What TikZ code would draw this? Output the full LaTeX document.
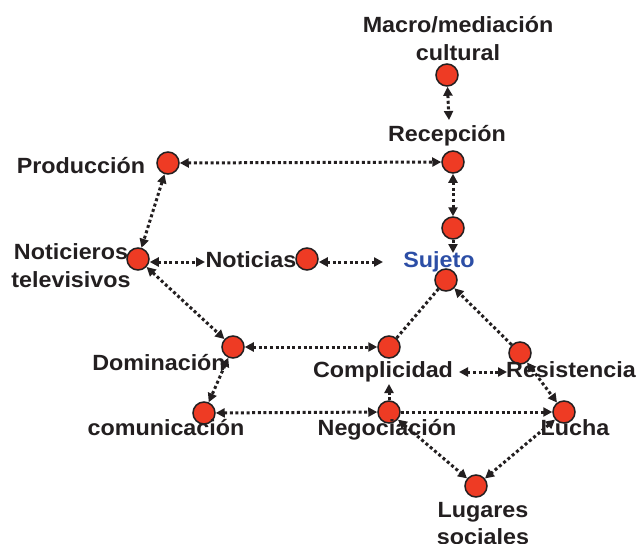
\documentclass[tikz,border=0pt]{standalone}
\usepackage{fontspec}
\setmainfont[FakeStretch=1.06]{Liberation Sans}
\usetikzlibrary{arrows.meta}
\definecolor{dotred}{HTML}{EE3B24}
\definecolor{ink}{HTML}{231F20}
\definecolor{sujblue}{HTML}{2C4EA6}
\tikzset{
  dotnode/.style={circle, fill=dotred, draw=ink, line width=1.5pt, minimum size=22pt, inner sep=0pt},
  lbl/.style={font=\fontsize{22}{27.5}\selectfont\bfseries, text=ink, inner sep=0pt, anchor=base, align=center},
  link/.style={draw=ink, line width=3pt, dash pattern=on 3pt off 2.6pt},
  both/.style={link, {Triangle[length=9pt,width=9pt]}-{Triangle[length=9pt,width=9pt]}},
  fwd/.style={link, -{Triangle[length=9pt,width=9pt]}},
  plainlink/.style={link}
}
\begin{document}
\begin{tikzpicture}[x=1pt,y=-1pt]
\useasboundingbox[fill=white] (0,0) rectangle (638,544);
% circles
\node[dotnode] (mac) at (447,75) {};
\node[dotnode] (rec) at (453,162) {};
\node[dotnode] (mid) at (453,228) {};
\node[dotnode] (suj) at (446,280) {};
\node[dotnode] (pro) at (168,163) {};
\node[dotnode] (ntv) at (138,259) {};
\node[dotnode] (nts) at (307,259) {};
\node[dotnode] (dom) at (233,347) {};
\node[dotnode] (com) at (204,413) {};
\node[dotnode] (cpl) at (389,347) {};
\node[dotnode] (res) at (520,353) {};
\node[dotnode] (neg) at (389,412) {};
\node[dotnode] (luc) at (564,412) {};
\node[dotnode] (lug) at (476,486) {};
% labels (base = baseline of the last line)
\node[lbl] (macl) at (458,60) {Macro/mediación\\cultural};
\node[lbl] (recl) at (447,141) {Recepción};
\node[lbl] (prol) at (81,173) {Producción};
\node[lbl] (ntvl) at (71,287) {Noticieros\\televisivos};
\node[lbl] (ntsl) at (251,267) {Noticias};
\node[lbl, text=sujblue] (sujl) at (439,267) {Sujeto};
\node[lbl] (doml) at (159,370) {Dominación};
\node[lbl] (coml) at (166,435) {comunicación};
\node[lbl] (cpll) at (383,377) {Complicidad};
\node[lbl] (resl) at (571,377) {Resistencia};
\node[lbl] (negl) at (387,435) {Negociación};
\node[lbl] (lucl) at (575,435) {Lucha};
\node[lbl] (lugl) at (483,544.5) {Lugares\\sociales};
% free ends
\coordinate (e1) at (449,120);
\coordinate (e2) at (453,253);
\coordinate (e3) at (383,262);
\coordinate (e4) at (205,262);
\coordinate (e5) at (459,372);
\coordinate (e6) at (507,372);
\coordinate (e7) at (389,384);
% connectors
\draw[both] (mac) -- (e1);
\draw[both] (pro) -- (rec);
\draw[both] (rec) -- (mid);
\draw[fwd] (mid) -- (e2);
\draw[both] (nts.east |- e3) -- (e3);
\draw[both] (ntv.east |- e4) -- (e4);
\draw[both] (pro) -- (ntv);
\draw[both] (ntv) -- (dom);
\draw[both] (dom) -- (com);
\draw[both] (dom) -- (cpl);
\draw[plainlink] (cpl) -- (suj);
\draw[fwd] (res) -- (suj);
\draw[both] (e5) -- (e6);
\draw[both] (res) -- (luc);
\draw[fwd] (neg) -- (e7);
\draw[both] (com) -- (neg);
\draw[fwd] (neg) -- (luc);
\draw[both] (neg) -- (lug);
\draw[both] (luc) -- (lug);
\end{tikzpicture}
\end{document}
